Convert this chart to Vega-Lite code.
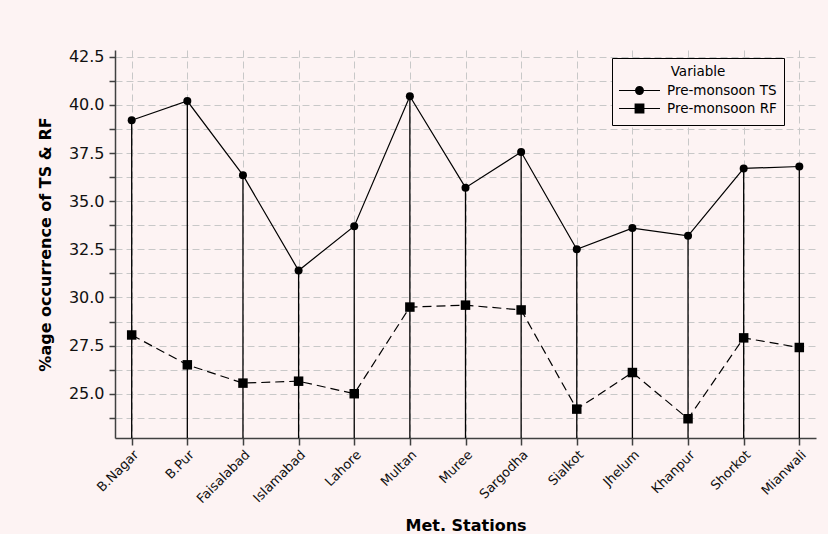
{
  "$schema": "https://vega.github.io/schema/vega-lite/v6.json",
  "autosize": "none",
  "width": 701,
  "height": 388,
  "padding": {"left": 115, "top": 50, "right": 12, "bottom": 96},
  "background": "#fdf3f3",
  "config": {"view": {"stroke": null}, "font": "DejaVu Sans"},
  "data": {
    "values": [
      {"station": "B.Nagar", "variable": "Pre-monsoon TS", "value": 39.2},
      {"station": "B.Pur", "variable": "Pre-monsoon TS", "value": 40.2},
      {"station": "Faisalabad", "variable": "Pre-monsoon TS", "value": 36.35},
      {"station": "Islamabad", "variable": "Pre-monsoon TS", "value": 31.4},
      {"station": "Lahore", "variable": "Pre-monsoon TS", "value": 33.7},
      {"station": "Multan", "variable": "Pre-monsoon TS", "value": 40.45},
      {"station": "Muree", "variable": "Pre-monsoon TS", "value": 35.7},
      {"station": "Sargodha", "variable": "Pre-monsoon TS", "value": 37.55},
      {"station": "Sialkot", "variable": "Pre-monsoon TS", "value": 32.5},
      {"station": "Jhelum", "variable": "Pre-monsoon TS", "value": 33.6},
      {"station": "Khanpur", "variable": "Pre-monsoon TS", "value": 33.2},
      {"station": "Shorkot", "variable": "Pre-monsoon TS", "value": 36.7},
      {"station": "Mianwali", "variable": "Pre-monsoon TS", "value": 36.8},
      {"station": "B.Nagar", "variable": "Pre-monsoon RF", "value": 28.05},
      {"station": "B.Pur", "variable": "Pre-monsoon RF", "value": 26.5},
      {"station": "Faisalabad", "variable": "Pre-monsoon RF", "value": 25.55},
      {"station": "Islamabad", "variable": "Pre-monsoon RF", "value": 25.65},
      {"station": "Lahore", "variable": "Pre-monsoon RF", "value": 25.0},
      {"station": "Multan", "variable": "Pre-monsoon RF", "value": 29.5},
      {"station": "Muree", "variable": "Pre-monsoon RF", "value": 29.6},
      {"station": "Sargodha", "variable": "Pre-monsoon RF", "value": 29.35},
      {"station": "Sialkot", "variable": "Pre-monsoon RF", "value": 24.2},
      {"station": "Jhelum", "variable": "Pre-monsoon RF", "value": 26.1},
      {"station": "Khanpur", "variable": "Pre-monsoon RF", "value": 23.7},
      {"station": "Shorkot", "variable": "Pre-monsoon RF", "value": 27.9},
      {"station": "Mianwali", "variable": "Pre-monsoon RF", "value": 27.4}
    ]
  },
  "encoding": {
    "x": {
      "field": "station",
      "type": "nominal",
      "sort": null,
      "scale": {"type": "point", "padding": 0.3},
      "axis": {
        "title": "Met. Stations",
        "titleFontWeight": "bold",
        "titleFontSize": 16,
        "titleColor": "black",
        "titlePadding": 12,
        "labelAngle": -45,
        "labelFontSize": 13,
        "labelColor": "#111111",
        "labelPadding": 3,
        "grid": true,
        "gridDash": [7, 4],
        "gridColor": "#c8c8c8",
        "gridWidth": 1,
        "domainColor": "#404040",
        "domainWidth": 1.5,
        "tickColor": "#404040",
        "tickSize": 7,
        "tickWidth": 1.5
      }
    },
    "y": {
      "field": "value",
      "type": "quantitative",
      "scale": {"domain": [22.7, 42.85], "nice": false, "zero": false},
      "axis": {
        "title": "%age occurrence of TS & RF",
        "titleFontWeight": "bold",
        "titleFontSize": 16,
        "titleColor": "black",
        "titlePadding": 15,
        "values": [23.75, 25, 26.25, 27.5, 28.75, 30, 31.25, 32.5, 33.75, 35, 36.25, 37.5, 38.75, 40, 41.25, 42.5],
        "labelExpr": "datum.value % 2.5 == 0 ? format(datum.value, '.1f') : ''",
        "labelFontSize": 16,
        "labelColor": "#111111",
        "labelPadding": 5,
        "grid": true,
        "gridDash": [7, 4],
        "gridColor": "#c8c8c8",
        "gridWidth": 1,
        "domainColor": "#404040",
        "domainWidth": 1.5,
        "tickColor": "#404040",
        "tickSize": 6,
        "tickWidth": 1.5
      }
    }
  },
  "layer": [
    {
      "transform": [{"filter": "datum.variable == 'Pre-monsoon TS'"}],
      "mark": {"type": "rule", "color": "black", "strokeWidth": 1.3},
      "encoding": {"y2": {"datum": 22.7}}
    },
    {
      "transform": [{"filter": "datum.variable == 'Pre-monsoon TS'"}],
      "mark": {"type": "line", "color": "black", "strokeWidth": 1.2}
    },
    {
      "transform": [{"filter": "datum.variable == 'Pre-monsoon TS'"}],
      "mark": {"type": "point", "shape": "circle", "filled": true, "color": "black", "size": 64, "opacity": 1}
    },
    {
      "transform": [{"filter": "datum.variable == 'Pre-monsoon RF'"}],
      "mark": {"type": "line", "color": "black", "strokeWidth": 1.2, "strokeDash": [9, 5]}
    },
    {
      "transform": [{"filter": "datum.variable == 'Pre-monsoon RF'"}],
      "mark": {"type": "point", "shape": "square", "filled": true, "color": "black", "size": 90, "opacity": 1}
    },
    {
      "mark": {"type": "point", "filled": true, "color": "black", "size": 1681, "opacity": 0},
      "encoding": {
        "shape": {
          "field": "variable",
          "type": "nominal",
          "scale": {
            "domain": ["Pre-monsoon TS", "Pre-monsoon RF"],
            "range": [
              "M-1,-0.03H-0.21V0.03H-1ZM0.21,-0.03H1V0.03H0.21ZM-0.22,0A0.22,0.22 0 1,1 0.22,0A0.22,0.22 0 1,1 -0.22,0Z",
              "M-1,-0.03H-0.23V0.03H-1ZM0.23,-0.03H1V0.03H0.23ZM-0.24,-0.24H0.24V0.24H-0.24Z"
            ]
          },
          "legend": {
            "orient": "none",
            "legendX": 497,
            "legendY": 8,
            "title": "Variable",
            "titleFontWeight": "normal",
            "titleFontSize": 13.5,
            "titleColor": "black",
            "titleAnchor": "middle",
            "titlePadding": 3,
            "labelFontSize": 13.5,
            "labelColor": "black",
            "strokeColor": "black",
            "fillColor": "#fdf3f3",
            "padding": 7,
            "symbolSize": 1681,
            "symbolStrokeWidth": 0,
            "symbolFillColor": "black",
            "symbolOpacity": 1,
            "clipHeight": 18,
            "rowPadding": 0,
            "labelOffset": 7,
            "symbolOffset": 0,
            "encode": {
              "symbols": {
                "update": {
                  "fill": {"value": "black"},
                  "opacity": {"value": 1},
                  "fillOpacity": {"value": 1}
                }
              }
            }
          }
        }
      }
    }
  ]
}
